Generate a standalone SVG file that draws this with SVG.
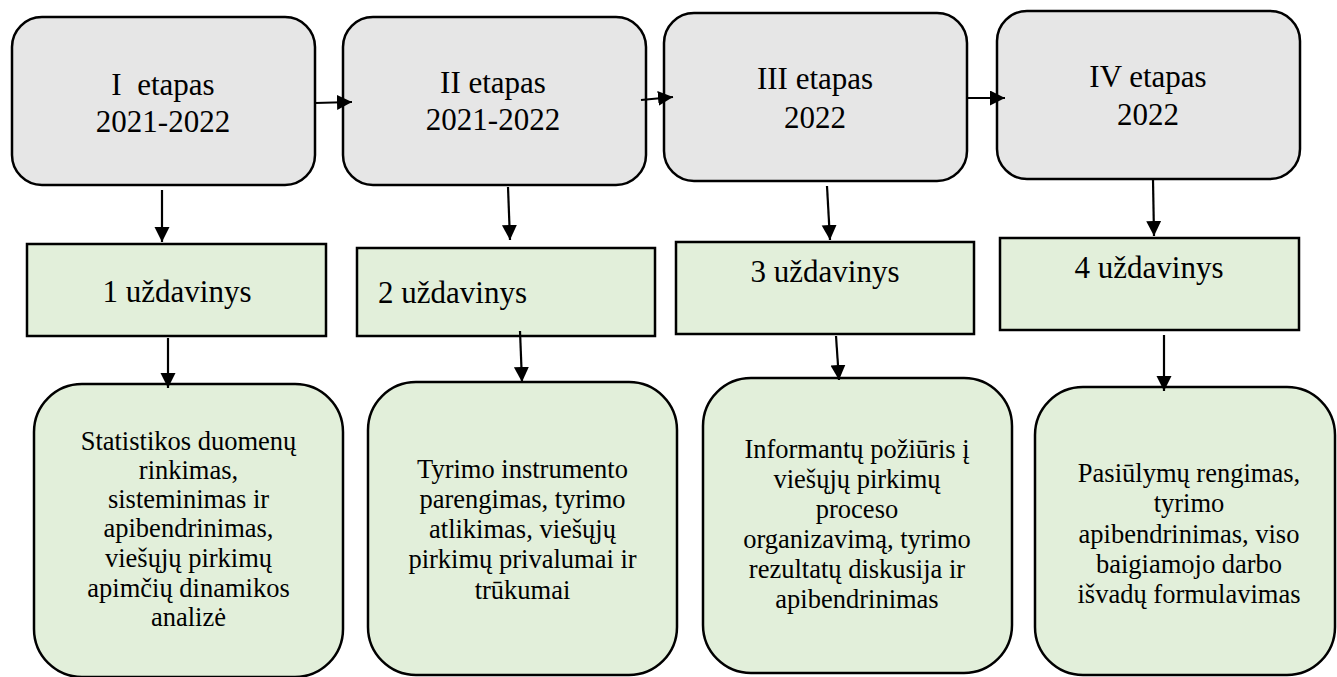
<svg xmlns="http://www.w3.org/2000/svg" width="1337" height="677" viewBox="0 0 1337 677">
  <defs>
    <marker id="arrow" markerUnits="userSpaceOnUse" markerWidth="16" markerHeight="16" refX="15" refY="7.5" orient="auto">
      <path d="M0,0 L15,7.5 L0,15 Z" fill="#000"/>
    </marker>
    <style>
      .stage { fill: #e6e6e6; stroke: #000; stroke-width: 2.5; }
      .task { fill: #e2efda; stroke: #000; stroke-width: 2.5; }
      .work { fill: #e2efda; stroke: #000; stroke-width: 2.5; }
      .title { font-family: "Liberation Serif", "Times New Roman", serif; font-size: 31px; fill: #000; text-anchor: middle; white-space: pre; }
      .body { font-family: "Liberation Serif", "Times New Roman", serif; font-size: 26.5px; fill: #000; text-anchor: middle; }
      .conn { stroke: #000; stroke-width: 2.2; fill: none; marker-end: url(#arrow); }
    </style>
  </defs>
  <rect width="1337" height="677" fill="#fff"/>

  <!-- stages -->
  <g id="stage1">
    <rect class="stage" x="12" y="17" width="303" height="168" rx="30"/>
    <text class="title" x="163" y="95">I  etapas</text>
    <text class="title" x="163" y="132">2021-2022</text>
  </g>
  <g id="stage2">
    <rect class="stage" x="343" y="17" width="303" height="168" rx="30"/>
    <text class="title" x="493" y="93">II etapas</text>
    <text class="title" x="493" y="130">2021-2022</text>
  </g>
  <g id="stage3">
    <rect class="stage" x="664" y="13" width="303" height="168" rx="30"/>
    <text class="title" x="815" y="89">III etapas</text>
    <text class="title" x="815" y="128">2022</text>
  </g>
  <g id="stage4">
    <rect class="stage" x="997" y="11" width="303" height="168" rx="30"/>
    <text class="title" x="1148" y="87">IV etapas</text>
    <text class="title" x="1148" y="125">2022</text>
  </g>

  <!-- tasks -->
  <g id="task1">
    <rect class="task" x="27" y="244" width="299" height="92"/>
    <text class="title" x="177" y="302">1 uždavinys</text>
  </g>
  <g id="task2">
    <rect class="task" x="357" y="248" width="298" height="88"/>
    <text class="title" x="378" y="303" style="text-anchor:start">2 uždavinys</text>
  </g>
  <g id="task3">
    <rect class="task" x="676" y="242" width="298" height="92"/>
    <text class="title" x="825" y="282">3 uždavinys</text>
  </g>
  <g id="task4">
    <rect class="task" x="1000" y="238" width="299" height="92"/>
    <text class="title" x="1149" y="278">4 uždavinys</text>
  </g>

  <!-- work descriptions -->
  <g id="work1">
    <rect class="work" x="34" y="384" width="309" height="293" rx="48"/>
    <text class="body" x="188.5" y="450">Statistikos duomenų</text>
    <text class="body" x="188.5" y="479">rinkimas,</text>
    <text class="body" x="188.5" y="508">sisteminimas ir</text>
    <text class="body" x="188.5" y="537">apibendrinimas,</text>
    <text class="body" x="188.5" y="567">viešųjų pirkimų</text>
    <text class="body" x="188.5" y="597">apimčių dinamikos</text>
    <text class="body" x="188.5" y="626">analizė</text>
  </g>
  <g id="work2">
    <rect class="work" x="368" y="382" width="309" height="293" rx="48"/>
    <text class="body" x="522.5" y="478">Tyrimo instrumento</text>
    <text class="body" x="522.5" y="508">parengimas, tyrimo</text>
    <text class="body" x="522.5" y="538">atlikimas, viešųjų</text>
    <text class="body" x="522.5" y="568">pirkimų privalumai ir</text>
    <text class="body" x="522.5" y="599">trūkumai</text>
  </g>
  <g id="work3">
    <rect class="work" x="703" y="378" width="309" height="295" rx="48"/>
    <text class="body" x="857" y="458">Informantų požiūris į</text>
    <text class="body" x="857" y="488">viešųjų pirkimų</text>
    <text class="body" x="857" y="518">proceso</text>
    <text class="body" x="857" y="548">organizavimą, tyrimo</text>
    <text class="body" x="857" y="578">rezultatų diskusija ir</text>
    <text class="body" x="857" y="608">apibendrinimas</text>
  </g>
  <g id="work4">
    <rect class="work" x="1035" y="387" width="300" height="288" rx="48"/>
    <text class="body" x="1189" y="482">Pasiūlymų rengimas,</text>
    <text class="body" x="1189" y="512">tyrimo</text>
    <text class="body" x="1189" y="543">apibendrinimas, viso</text>
    <text class="body" x="1189" y="573">baigiamojo darbo</text>
    <text class="body" x="1189" y="603">išvadų formulavimas</text>
  </g>

  <!-- connectors -->
  <g id="connectors">
    <line class="conn" x1="315" y1="103" x2="352" y2="102"/>
    <line class="conn" x1="641" y1="100" x2="673" y2="97"/>
    <line class="conn" x1="967" y1="98" x2="1005" y2="98"/>

    <line class="conn" x1="162" y1="190" x2="162" y2="242"/>
    <line class="conn" x1="508" y1="187" x2="510" y2="240"/>
    <line class="conn" x1="827" y1="186" x2="830" y2="240"/>
    <line class="conn" x1="1153" y1="180" x2="1154" y2="236"/>

    <line class="conn" x1="168" y1="338" x2="168" y2="388"/>
    <line class="conn" x1="520" y1="331" x2="522" y2="382"/>
    <line class="conn" x1="836" y1="336" x2="839" y2="380"/>
    <line class="conn" x1="1164" y1="335" x2="1164" y2="391"/>
  </g>
</svg>
